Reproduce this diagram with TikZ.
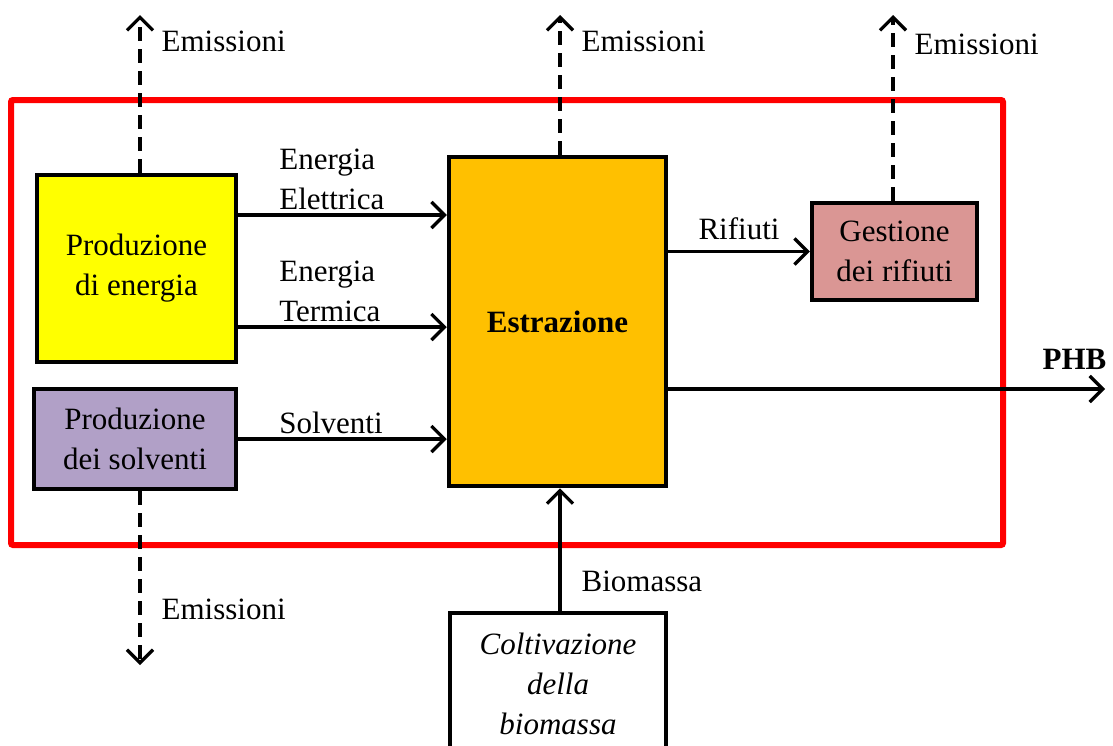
\documentclass[tikz,border=0pt]{standalone}
\usepackage{fontspec}
\setmainfont{Liberation Serif}
\usetikzlibrary{arrows.meta,positioning,calc}
\definecolor{frame}{HTML}{FF0000}
\definecolor{yel}{HTML}{FFFF00}
\definecolor{ora}{HTML}{FFC000}
\definecolor{lil}{HTML}{B1A0C7}
\definecolor{ros}{HTML}{DA9694}
\tikzset{blk/.style={draw=black,line width=4.5pt,align=center,inner sep=0pt}, arr/.style={-{Straight Barb[length=13pt,width=26pt]},line width=3.3pt}, emi/.style={arr,dash pattern=on 14pt off 8pt}, lbl/.style={inner sep=4pt,align=left}}
\begin{document}
\begin{tikzpicture}[x=1pt,y=-1pt,font=\fontsize{31}{40}\selectfont]
\clip (0,0) rectangle (1113,745);
\draw[frame,line width=6pt,rounded corners=2pt] (11,100) rectangle (1003,545);
\node[blk,fill=yel,minimum width=199pt,minimum height=187pt] (en) at (136.5,268.5) {Produzione\\di energia};
\node[blk,fill=lil,minimum width=202pt,minimum height=100pt] (sol) at (135,439) {Produzione\\dei solventi};
\node[blk,fill=ora,minimum width=217pt,minimum height=329pt] (estr) at (557.5,321.5) {\bfseries Estrazione};
\node[blk,fill=ros,minimum width=165pt,minimum height=97pt] (ges) at (894.5,251.5) {Gestione\\dei rifiuti};
\node[blk,fill=white,minimum width=216pt,minimum height=142pt] (colt) at (558,684) {\itshape Coltivazione\\\itshape della\\\itshape biomassa};
% emissioni
\coordinate (e1) at (140,15); \coordinate (e2) at (560,15); \coordinate (e3) at (893,15); \coordinate (e4) at (140,665);
\foreach \a/\b/\p in {en/e1/.83,estr/e2/.81,ges/e3/.84}{\draw[emi] (\b|-\a.north)--node[lbl,anchor=west,pos=\p,xshift=16pt]{Emissioni}(\b);}
\draw[emi] (e4|-sol.south)--node[lbl,anchor=west,pos=.68,xshift=16pt]{Emissioni}(e4);
% flussi
\draw[arr] (en.east|-0,215)--node[lbl,anchor=south west,pos=.17]{Energia\\Elettrica}(estr.west|-0,215);
\draw[arr] (en.east|-0,327)--node[lbl,anchor=south west,pos=.17]{Energia\\Termica}(estr.west|-0,327);
\draw[arr] (sol.east)--node[lbl,anchor=south west,pos=.17]{Solventi}(estr.west|-sol.east);
\draw[arr] (estr.east|-ges.west)--node[lbl,above,yshift=6pt]{Rifiuti}(ges.west);
\coordinate (phb) at (1105,389);
\draw[arr] (estr.east|-phb)--node[lbl,above left,pos=1,xshift=7pt,yshift=14pt]{\bfseries PHB}(phb);
\draw[arr] (colt.north-|560,0)--node[lbl,anchor=west,pos=.24,xshift=16pt]{Biomassa}(estr.south-|560,0);
\end{tikzpicture}
\end{document}
